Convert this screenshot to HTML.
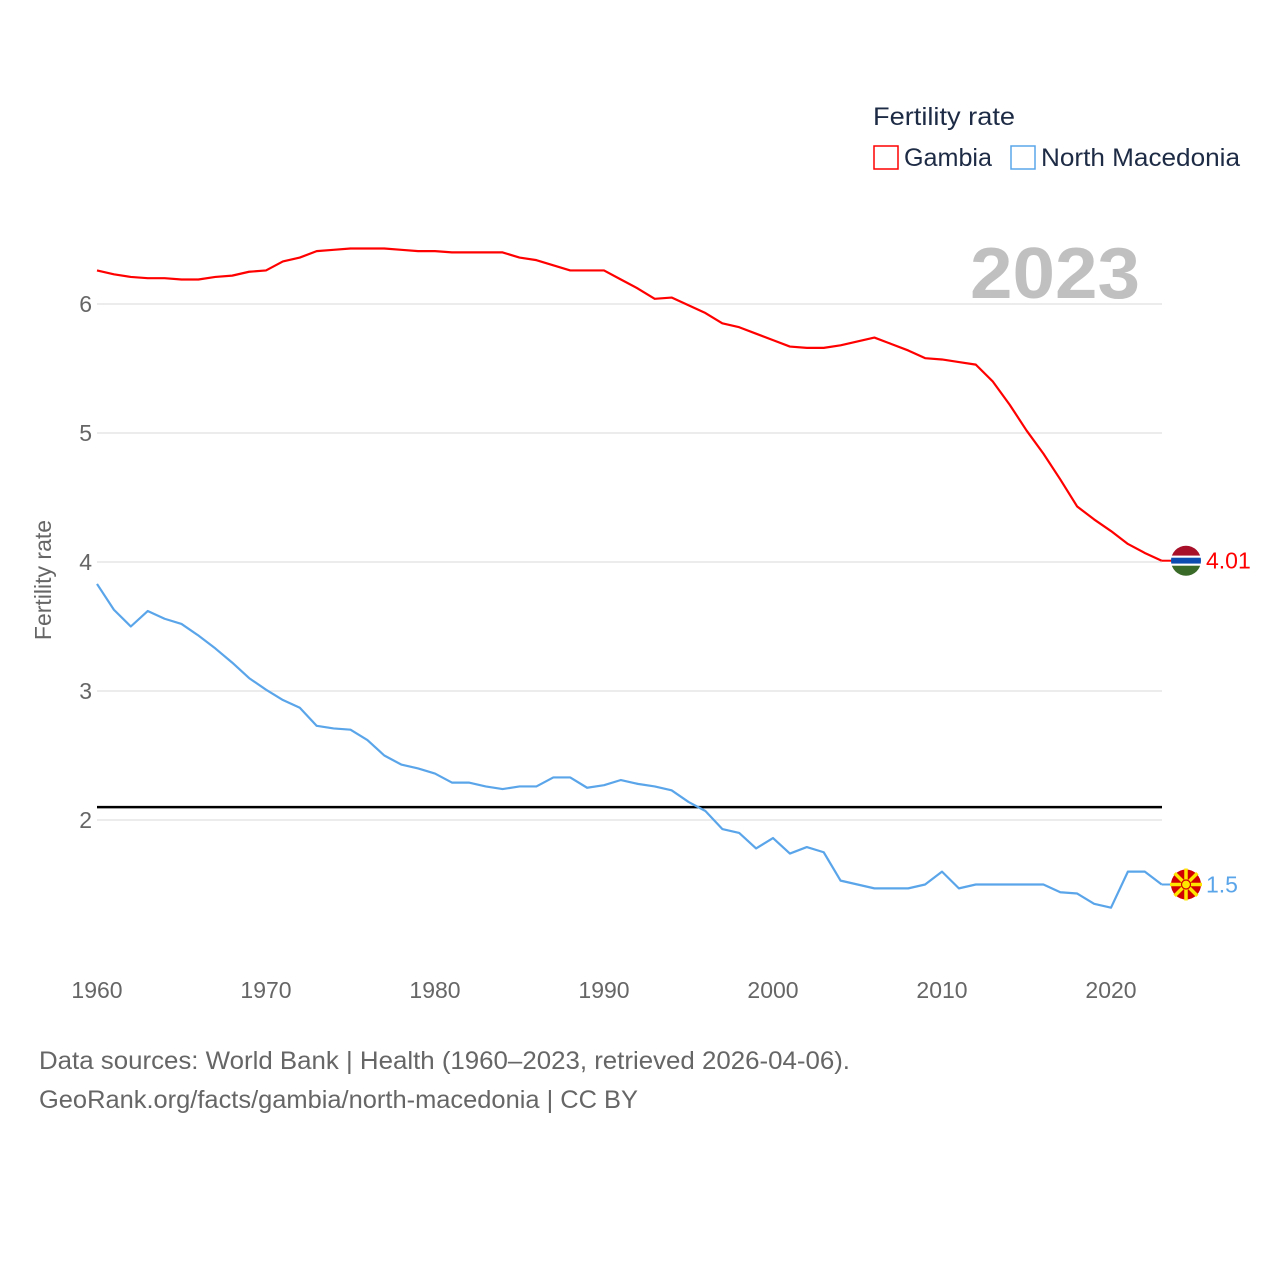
<!DOCTYPE html>
<html><head><meta charset="utf-8">
<style>
body{margin:0;background:#fff;width:1280px;height:1280px;overflow:hidden;font-family:"Liberation Sans",sans-serif;}
</style></head>
<body>
<svg id="chart" width="1280" height="1280" xmlns="http://www.w3.org/2000/svg" font-family="Liberation Sans, sans-serif">
<text x="873" y="125" font-size="25" fill="#1e2b45" textLength="142" lengthAdjust="spacingAndGlyphs">Fertility rate</text>
<rect x="874" y="146" width="24" height="23" fill="none" stroke="#ff0000" stroke-width="1.5"/>
<text x="904" y="166" font-size="25" fill="#1e2b45" textLength="88" lengthAdjust="spacingAndGlyphs">Gambia</text>
<rect x="1011" y="146" width="24" height="23" fill="none" stroke="#5aa5ea" stroke-width="1.5"/>
<text x="1041" y="166" font-size="25" fill="#1e2b45" textLength="199" lengthAdjust="spacingAndGlyphs">North Macedonia</text>
<text x="970" y="298" font-size="72" font-weight="bold" fill="#c0c0c0" textLength="170" lengthAdjust="spacingAndGlyphs">2023</text>
<text transform="translate(51,580) rotate(-90)" font-size="23" fill="#666" text-anchor="middle">Fertility rate</text>
<g id="grid"></g><g id="axes"></g><g id="lines"></g><g id="ends"></g>
<text x="39" y="1069" font-size="25" fill="#666" textLength="811" lengthAdjust="spacingAndGlyphs">Data sources: World Bank | Health (1960–2023, retrieved 2026-04-06).</text>
<text x="39" y="1108" font-size="25" fill="#666" textLength="599" lengthAdjust="spacingAndGlyphs">GeoRank.org/facts/gambia/north-macedonia | CC BY</text>
</svg>
<script>
const years=[];for(let y=1960;y<=2023;y++)years.push(y);
const gambia=[6.26,6.23,6.21,6.20,6.20,6.19,6.19,6.21,6.22,6.25,6.26,6.33,6.36,6.41,6.42,6.43,6.43,6.43,6.42,6.41,6.41,6.40,6.40,6.40,6.40,6.36,6.34,6.30,6.26,6.26,6.26,6.19,6.12,6.04,6.05,5.99,5.93,5.85,5.82,5.77,5.72,5.67,5.66,5.66,5.68,5.71,5.74,5.69,5.64,5.58,5.57,5.55,5.53,5.40,5.22,5.02,4.84,4.64,4.43,4.33,4.24,4.14,4.07,4.01];
const macedonia=[3.83,3.63,3.50,3.62,3.56,3.52,3.43,3.33,3.22,3.10,3.01,2.93,2.87,2.73,2.71,2.70,2.62,2.50,2.43,2.40,2.36,2.29,2.29,2.26,2.24,2.26,2.26,2.33,2.33,2.25,2.27,2.31,2.28,2.26,2.23,2.14,2.07,1.93,1.90,1.78,1.86,1.74,1.79,1.75,1.53,1.50,1.47,1.47,1.47,1.50,1.60,1.47,1.50,1.50,1.50,1.50,1.50,1.44,1.43,1.35,1.32,1.60,1.60,1.50];
const yTicks=[2,3,4,5,6];
const xTicks=[1960,1970,1980,1990,2000,2010,2020];
const replacement=2.1;
const NS="http://www.w3.org/2000/svg";
const X=y=>97+(y-1960)*16.9;
const Y=v=>820-(v-2)*129;
function mk(t,a,p){const e=document.createElementNS(NS,t);for(const k in a)e.setAttribute(k,a[k]);p.appendChild(e);return e;}
const grid=document.getElementById('grid'),axes=document.getElementById('axes'),lines=document.getElementById('lines'),ends=document.getElementById('ends');
yTicks.forEach(v=>{
  const l=mk('line',{x1:97,x2:1162,y1:Y(v),y2:Y(v),stroke:'#e6e6e6','stroke-width':1.5},grid);
  
  
  const t=mk('text',{x:92,y:Y(v)+8,'font-size':23,fill:'#666','text-anchor':'end'},axes);t.textContent=v;
  
  
});
xTicks.forEach(v=>{
  const t=mk('text',{x:X(v),y:998,'font-size':23,fill:'#666','text-anchor':'middle'},axes);t.textContent=v;
  
  
});
const rl=mk('line',{x1:97,x2:1162,y1:Y(replacement),y2:Y(replacement),stroke:'#000','stroke-width':2.5},lines);


function series(vals,color,name){
  const p=mk('polyline',{points:vals.map((v,i)=>X(years[i])+','+Y(v)).join(' '),fill:'none',stroke:color,'stroke-width':2.2,'stroke-linejoin':'round'},lines);
  
  
  const last=vals[vals.length-1],cy=Y(last);
  mk('line',{x1:X(2023),x2:1172,y1:cy,y2:cy,stroke:color,'stroke-width':2},ends);
  const g=mk('g',{},ends);
  
  
  if(name==='gambia'){
    mk('clipPath',{id:'cg'},g);
    const c=document.getElementById('cg');mk('circle',{cx:1186,cy:cy,r:15},c);
    const gg=mk('g',{'clip-path':'url(#cg)'},g);
    mk('rect',{x:1170,y:cy-16,width:32,height:11,fill:'#a8102a'},gg);
    mk('rect',{x:1170,y:cy-5,width:32,height:3,fill:'#fff'},gg);
    mk('rect',{x:1170,y:cy-3,width:32,height:6,fill:'#0c4cb0'},gg);
    mk('rect',{x:1170,y:cy+3,width:32,height:2,fill:'#fff'},gg);
    mk('rect',{x:1170,y:cy+5,width:32,height:11,fill:'#3a6a28'},gg);
  }else{
    mk('circle',{cx:1186,cy:cy,r:15,fill:'#d20000'},g);
    for(let k=0;k<8;k++){const a=k*Math.PI/4;mk('line',{x1:1186,y1:cy,x2:1186+16*Math.cos(a),y2:cy+16*Math.sin(a),stroke:'#ffe600','stroke-width':3.5},g);}
    mk('circle',{cx:1186,cy:cy,r:4.5,fill:'#ffe600',stroke:'#d20000','stroke-width':1.2},g);
  }
  const t=mk('text',{x:1206,y:cy+8,'font-size':23,fill:color},ends);t.textContent=last;
  
  
}
series(gambia,'#ff0000','gambia');
series(macedonia,'#5aa5ea','north-macedonia');
</script>
</body></html>
